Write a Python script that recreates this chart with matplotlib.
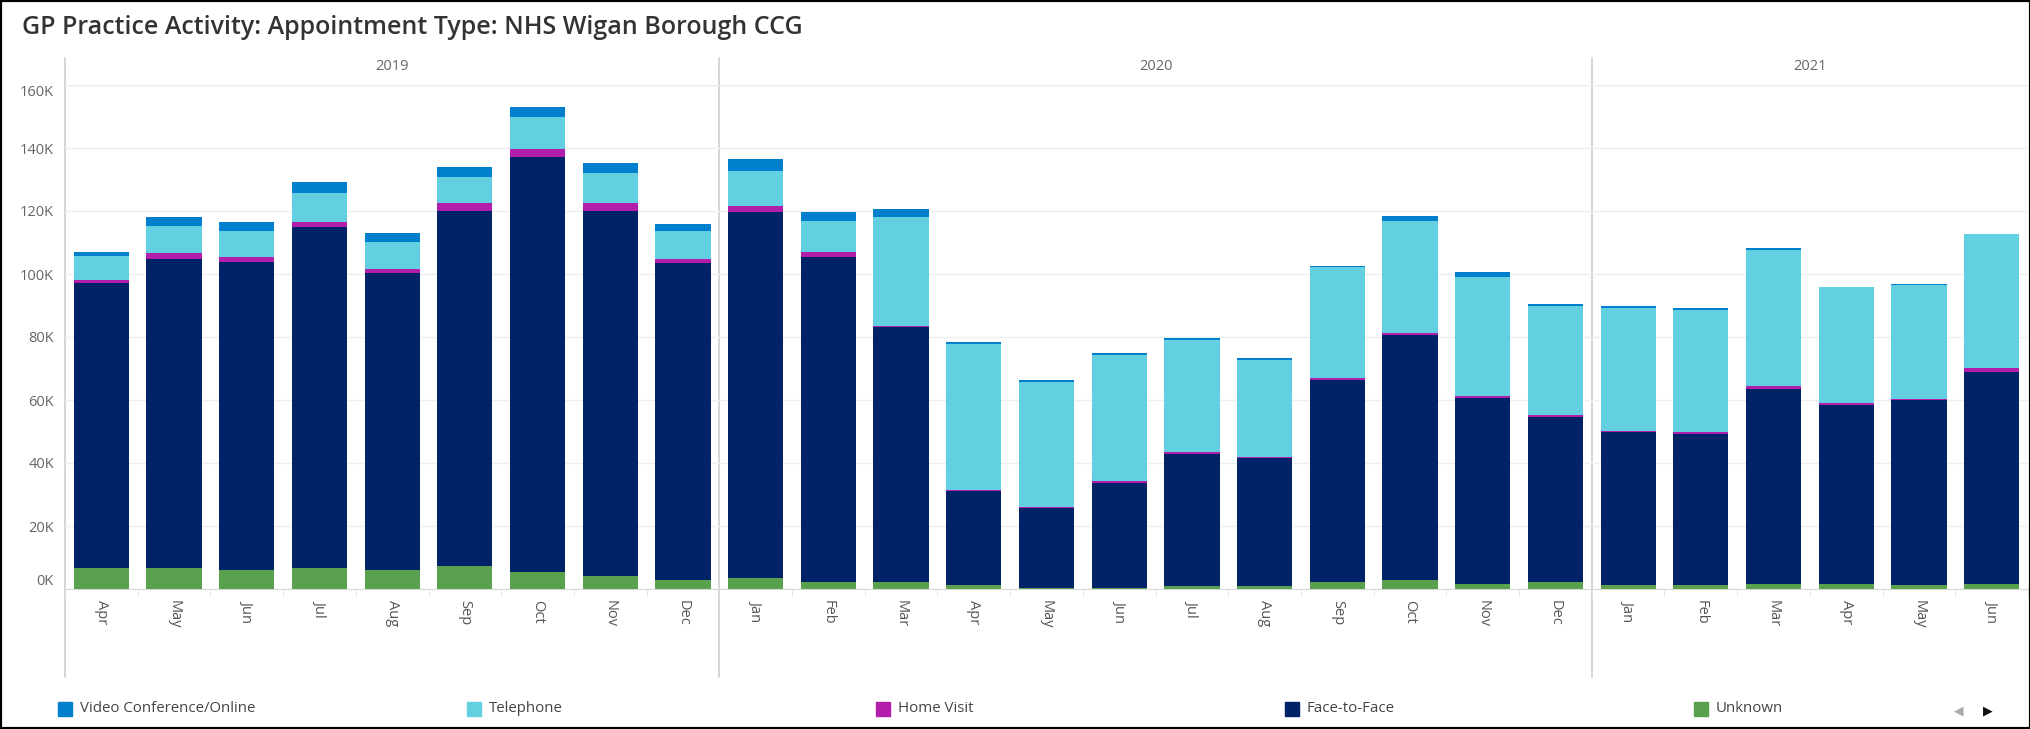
import numpy as np
import matplotlib
matplotlib.use("Agg")
import matplotlib.pyplot as plt
from matplotlib.patches import Rectangle
from matplotlib.ticker import FuncFormatter

plt.rcParams['font.family'] = ['Open Sans', 'DejaVu Sans']

months = ["Apr", "May", "Jun", "Jul", "Aug", "Sep", "Oct", "Nov", "Dec",
          "Jan", "Feb", "Mar", "Apr", "May", "Jun", "Jul", "Aug", "Sep", "Oct", "Nov", "Dec",
          "Jan", "Feb", "Mar", "Apr", "May", "Jun"]
years = ["2019", "2020", "2021"]
year_counts = [9, 12, 6]

# values in thousands of appointments
unknown = [6.6, 6.6, 5.9, 6.8, 5.9, 7.3, 5.3, 4.1, 2.8,
           3.4, 2.2, 2.1, 1.3, 0.3, 0.3, 1.0, 1.0, 2.1, 2.8, 1.5, 2.1,
           1.4, 1.4, 1.5, 1.5, 1.4, 1.6]
face = [90.4, 98.1, 98.0, 108.0, 94.3, 112.8, 131.7, 116.0, 100.6,
        116.4, 103.1, 81.0, 29.8, 25.3, 33.3, 41.8, 40.5, 64.2, 77.7, 59.1, 52.4,
        48.4, 47.8, 62.0, 56.8, 58.6, 67.4]
home = [1.1, 1.9, 1.4, 1.8, 1.3, 2.3, 2.6, 2.3, 1.4,
        1.9, 1.7, 0.5, 0.3, 0.3, 0.8, 0.8, 0.5, 0.6, 0.9, 0.7, 0.8,
        0.4, 0.5, 0.9, 0.7, 0.4, 1.1]
phone = [7.7, 8.7, 8.4, 9.2, 8.8, 8.3, 10.1, 9.6, 8.7,
         10.9, 9.9, 34.4, 46.4, 39.8, 40.0, 35.6, 30.8, 35.4, 35.4, 37.9, 34.7,
         39.1, 39.0, 43.3, 36.8, 36.0, 42.5]
video = [1.3, 2.9, 2.9, 3.5, 2.6, 3.2, 3.4, 3.1, 2.4,
         3.8, 2.9, 2.5, 0.6, 0.6, 0.4, 0.5, 0.5, 0.3, 1.7, 1.5, 0.5,
         0.5, 0.5, 0.7, 0.2, 0.5, 0.2]

series = [("Unknown", unknown, "#59a14f"),
          ("Face-to-Face", face, "#002266"),
          ("Home Visit", home, "#b21dac"),
          ("Telephone", phone, "#62d0e0"),
          ("Video Conference/Online", video, "#0080cc")]
legend_order = ["Video Conference/Online", "Telephone", "Home Visit", "Face-to-Face", "Unknown"]

W, H = 2031, 729
fig = plt.figure(figsize=(W / 100, H / 100), dpi=100)
ax = fig.add_axes([65 / W, 1 - 589 / H, (2028 - 65) / W, (589 - 85) / H])

x = np.arange(len(months))
bottom = np.zeros(len(months))
for name, vals, col in series:
    v = np.array(vals) * 1000
    ax.bar(x, v, 0.76, bottom=bottom, color=col, linewidth=0, zorder=3)
    bottom += v

ax.set_xlim(-0.5, len(months) - 0.5)
ax.set_ylim(0, 160000)
ax.set_yticks(np.arange(0, 160001, 20000))
ax.yaxis.set_major_formatter(FuncFormatter(lambda v, p: f"{int(v / 1000)}K"))
ax.grid(axis="y", color="#efefef", linewidth=1, zorder=0)
ax.tick_params(axis="y", length=0, pad=8, labelsize=10.5, labelcolor="#666666")
ylabels = ax.get_yticklabels()
ylabels[0].set_va("bottom")
ylabels[-1].set_va("top")

ax.set_xticks(x)
ax.set_xticklabels(months, rotation=270)
ax.tick_params(axis="x", length=0, pad=8, labelsize=10.5, labelcolor="#555555")
ax.set_xticks(np.arange(-0.5, len(months), 1), minor=True)
ax.tick_params(axis="x", which="minor", length=5, color="#e2e2e2")

for s in ["top", "right", "left"]:
    ax.spines[s].set_visible(False)
ax.spines["bottom"].set_color("#d8d8d8")
ax.axhline(160000, color="#e0e0e0", linewidth=1, zorder=1)

# year header and dividers
trans = ax.get_xaxis_transform()
start = 0
edges = [-0.5]
for yr, n in zip(years, year_counts):
    ax.text(start + n / 2 - 0.5, 1.036, yr, transform=trans, ha="center", va="center",
            fontsize=10.5, color="#666666")
    start += n
    edges.append(start - 0.5)
for e in edges[:-1]:
    ax.plot([e, e], [-0.175, 1.054], transform=trans, color="#d0d0d0",
            linewidth=1.2, clip_on=False, zorder=1)

# title
fig.text(22 / W, 1 - 27 / H, "GP Practice Activity: Appointment Type: NHS Wigan Borough CCG",
         fontsize=18, fontweight="semibold", color="#333333", va="center", ha="left")

# legend
colors = {name: col for name, vals, col in series}
for i, name in enumerate(legend_order):
    lx = 58 + i * 409
    fig.patches.append(Rectangle((lx / W, 1 - 716 / H), 14 / W, 14 / H,
                                 transform=fig.transFigure, color=colors[name]))
    fig.text((lx + 22) / W, 1 - 709 / H, name, fontsize=10.8, color="#444444",
             va="center", ha="left")
fig.text(1959 / W, 1 - 711 / H, "\u25c0", fontsize=9, color="#aaaaaa", ha="center", va="center",
         family="DejaVu Sans")
fig.text(1988 / W, 1 - 711 / H, "\u25b6", fontsize=9, color="#111111", ha="center", va="center",
         family="DejaVu Sans")

# outer frame
fig.patches.append(Rectangle((0, 0), 1, 1, transform=fig.transFigure, fill=False,
                             edgecolor="black", linewidth=3))

fig.savefig("out.png", dpi=100)
